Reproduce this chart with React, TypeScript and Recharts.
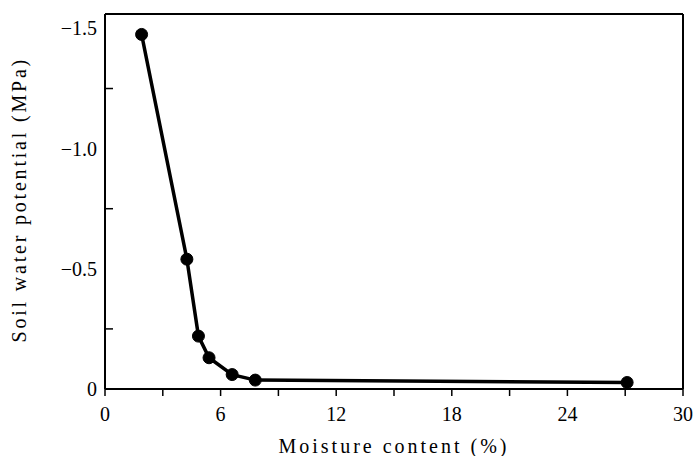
import { LineChart, Line, XAxis, YAxis, ReferenceLine } from 'recharts';

const moisture = [1.9, 4.25, 4.85, 5.4, 6.6, 7.8, 27.1];
const potential = [-1.475, -0.54, -0.22, -0.13, -0.06, -0.037, -0.027];

const xTicks = [0, 3, 6, 9, 12, 15, 18, 21, 24, 27, 30];
const yTicks = [0, -0.25, -0.5, -0.75, -1.0, -1.25, -1.5];
const yLabels: Record<string, string> = { '0': '0', '-0.5': '\u22120.5', '-1': '\u22121.0', '-1.5': '\u22121.5' };

const data = moisture.map((m, i) => ({ moisture: m, potential: potential[i] }));

const FONT = '"Liberation Serif", "DejaVu Serif", serif';
const Y_TOP = -1.56;

const XTick = ({ x, y, payload }: any) => {
  const v = payload.value;
  return (
    <g>
      <line x1={x} y1={y} x2={x} y2={y + 7} stroke="#000" strokeWidth={1.5} />
      {v % 6 === 0 && (
        <text x={x} y={y + 32} textAnchor="middle" fontFamily={FONT} fontSize={20} fill="#000">
          {v}
        </text>
      )}
    </g>
  );
};

const YTick = ({ x, y, payload }: any) => {
  const label = yLabels[String(payload.value)];
  return (
    <g>
      {label === undefined && <line x1={x} y1={y} x2={x + 8} y2={y} stroke="#000" strokeWidth={1.5} />}
      {label !== undefined && (
        <text x={x - 8} y={y + 7} textAnchor="end" fontFamily={FONT} fontSize={20} fill="#000">
          {label}
        </text>
      )}
    </g>
  );
};

export default function App() {
  return (
    <div style={{ position: 'absolute', left: 0, top: 0, background: '#fff' }}>
      <LineChart width={693} height={456} data={data} margin={{ top: 14, right: 10, left: 0, bottom: 0 }}>
        <XAxis
          dataKey="moisture"
          type="number"
          domain={[0, 30]}
          ticks={xTicks}
          tickSize={0}
          tickMargin={0}
          tickLine={false}
          tick={<XTick />}
          height={67}
          stroke="#000"
          strokeWidth={2}
          label={{
            value: 'Moisture content (%)',
            position: 'insideBottom',
            offset: 3,
            fill: '#000',
            fontFamily: FONT,
            fontSize: 20,
            letterSpacing: 3,
          }}
        />
        <YAxis
          type="number"
          domain={[Y_TOP, 0]}
          reversed
          ticks={yTicks}
          tickSize={0}
          tickMargin={0}
          tickLine={false}
          tick={<YTick />}
          width={105}
          stroke="#000"
          strokeWidth={2}
          allowDataOverflow
          label={{
            value: 'Soil water potential (MPa)',
            angle: -90,
            position: 'insideLeft',
            offset: 19,
            dy: 141,
            fill: '#000',
            fontFamily: FONT,
            fontSize: 20,
            letterSpacing: 2.8,
          }}
        />
        <ReferenceLine y={Y_TOP} stroke="#000" strokeWidth={2} />
        <ReferenceLine x={30} stroke="#000" strokeWidth={2} />
        <Line
          type="linear"
          dataKey="potential"
          stroke="#000"
          strokeWidth={3.5}
          dot={{ r: 6, fill: '#000', stroke: '#000', strokeWidth: 1 }}
          isAnimationActive={false}
        />
      </LineChart>
    </div>
  );
}
